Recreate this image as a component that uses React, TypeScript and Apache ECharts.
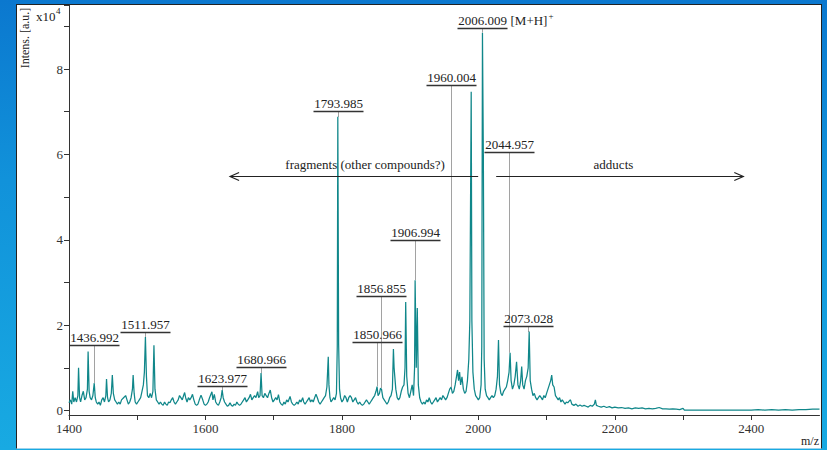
import React, { useEffect, useRef } from "react";
import * as echarts from "echarts";

// m/z vs intensity (x10^4 a.u.)
const spectrum: [number, number][] = [
  [1400, 0.18], [1402, 0.25], [1404, 0.15], [1405.5, 0.45], [1407, 0.2], [1409, 0.3], [1411, 0.2], [1413, 0.35],
  [1414, 1.0], [1415.5, 0.3], [1417, 0.2], [1419, 0.35], [1421, 0.45], [1423, 0.25], [1425, 0.3], [1427, 0.5],
  [1428, 1.38], [1429.5, 0.45], [1431, 0.3], [1433, 0.25], [1435, 0.35], [1437, 0.64], [1438.5, 0.3], [1440, 0.2],
  [1442, 0.15], [1444, 0.2], [1446, 0.12], [1448, 0.25], [1450, 0.3], [1452, 0.2], [1454, 0.35], [1455, 0.74],
  [1456.5, 0.3], [1458, 0.2], [1460, 0.25], [1462, 0.4], [1463.5, 0.83], [1465, 0.4], [1467, 0.25], [1469, 0.2],
  [1471, 0.15], [1473, 0.2], [1475, 0.15], [1477, 0.25], [1480, 0.3], [1483, 0.35], [1485, 0.25], [1487, 0.15],
  [1489, 0.2], [1491, 0.3], [1493, 0.5], [1494, 0.83], [1495.5, 0.4], [1497, 0.2], [1499, 0.15], [1501, 0.2],
  [1503, 0.25], [1505, 0.3], [1507, 0.45], [1509, 0.6], [1510.5, 0.9], [1512, 1.72], [1513.5, 0.8], [1515, 0.35],
  [1517, 0.3], [1519, 0.4], [1521, 0.3], [1523, 0.45], [1524.5, 1.53], [1526, 0.5], [1528, 0.25], [1530, 0.2],
  [1532, 0.15], [1534, 0.2], [1536, 0.15], [1538, 0.12], [1540, 0.2], [1542, 0.15], [1544, 0.12], [1546, 0.2],
  [1548, 0.18], [1550, 0.25], [1552, 0.3], [1554, 0.2], [1556, 0.15], [1558, 0.2], [1560, 0.25], [1562, 0.35],
  [1564, 0.3], [1566, 0.25], [1568, 0.35], [1569.5, 0.42], [1571, 0.3], [1573, 0.2], [1575, 0.3], [1577, 0.25],
  [1579, 0.3], [1581, 0.38], [1583, 0.25], [1585, 0.15], [1587, 0.12], [1589, 0.15], [1591, 0.25], [1593.5, 0.36],
  [1596, 0.25], [1598, 0.15], [1600, 0.12], [1602, 0.15], [1604, 0.2], [1606, 0.3], [1608, 0.38], [1609.5, 0.44],
  [1611, 0.25], [1613, 0.38], [1615, 0.2], [1617, 0.15], [1619, 0.12], [1621, 0.2], [1623, 0.3], [1624.5, 0.48],
  [1626, 0.3], [1628, 0.2], [1630, 0.15], [1632, 0.1], [1634, 0.12], [1636, 0.18], [1638, 0.12], [1640, 0.1],
  [1642, 0.15], [1644, 0.12], [1646, 0.2], [1648, 0.15], [1650, 0.12], [1652, 0.15], [1654, 0.2], [1656, 0.25],
  [1658, 0.3], [1660, 0.2], [1662, 0.25], [1664, 0.3], [1666, 0.38], [1668, 0.25], [1670, 0.3], [1672, 0.35],
  [1674, 0.3], [1676.5, 0.44], [1678, 0.3], [1680, 0.35], [1681.5, 0.88], [1683, 0.35], [1685, 0.3], [1687, 0.4],
  [1689, 0.35], [1691, 0.3], [1693, 0.4], [1695, 0.48], [1697, 0.3], [1699, 0.2], [1701, 0.25], [1703, 0.3],
  [1705, 0.25], [1707, 0.37], [1709, 0.2], [1711, 0.15], [1713, 0.12], [1715, 0.2], [1717, 0.15], [1719, 0.25],
  [1721, 0.2], [1724, 0.33], [1726, 0.2], [1728, 0.15], [1730, 0.12], [1732, 0.15], [1734, 0.2], [1736, 0.15],
  [1738, 0.25], [1740, 0.2], [1742.5, 0.3], [1744, 0.2], [1746, 0.15], [1748, 0.2], [1750, 0.25], [1752, 0.3],
  [1754, 0.2], [1756, 0.25], [1758, 0.2], [1760, 0.3], [1762, 0.38], [1764, 0.3], [1766, 0.2], [1768, 0.15],
  [1770, 0.2], [1772, 0.25], [1774, 0.3], [1776, 0.35], [1778, 0.55], [1779, 0.9], [1780, 1.26], [1781, 0.6],
  [1782.5, 0.3], [1784, 0.2], [1786, 0.25], [1788, 0.3], [1790, 0.25], [1792, 0.4], [1793.2, 1.5], [1794, 6.88],
  [1795.2, 1.55], [1796.5, 0.5], [1798, 0.3], [1800, 0.2], [1802, 0.25], [1804, 0.35], [1806, 0.3], [1808, 0.2],
  [1810, 0.3], [1812, 0.35], [1814, 0.3], [1816, 0.2], [1818, 0.25], [1820, 0.3], [1822, 0.2], [1824, 0.15],
  [1826, 0.2], [1828, 0.15], [1830, 0.12], [1832, 0.15], [1834, 0.2], [1836, 0.25], [1838, 0.2], [1840, 0.15],
  [1842, 0.2], [1844, 0.25], [1846, 0.3], [1848, 0.35], [1850, 0.45], [1851.5, 0.56], [1853, 0.35], [1855, 0.4],
  [1856.5, 0.52], [1858, 0.5], [1860, 0.3], [1862, 0.25], [1864, 0.2], [1866, 0.15], [1868, 0.2], [1870, 0.3],
  [1872, 0.35], [1874, 0.5], [1875.5, 1.44], [1876.5, 1.0], [1877.5, 0.8], [1879, 0.5], [1881, 0.3], [1883, 0.25],
  [1885, 0.3], [1887, 0.45], [1889, 0.55], [1891, 0.6], [1892.5, 1.0], [1893.5, 2.54], [1895, 0.8], [1897, 0.4],
  [1899, 0.3], [1901, 0.45], [1903, 0.6], [1905, 0.35], [1906.5, 1.0], [1907.3, 3.05], [1909, 1.0], [1910.5, 2.4],
  [1912, 0.6], [1914, 0.3], [1916, 0.2], [1918, 0.15], [1920, 0.2], [1922, 0.15], [1924, 0.25], [1926, 0.2],
  [1928, 0.3], [1930, 0.2], [1932, 0.15], [1934, 0.2], [1936, 0.25], [1938, 0.3], [1940, 0.2], [1942, 0.25],
  [1944, 0.3], [1946, 0.25], [1948, 0.35], [1950, 0.3], [1952, 0.25], [1954, 0.3], [1956, 0.4], [1958, 0.5],
  [1960, 0.55], [1962, 0.4], [1964, 0.45], [1966, 0.6], [1968, 0.8], [1969.5, 0.95], [1971, 0.7], [1972.5, 0.9],
  [1974, 0.6], [1976, 0.79], [1978, 0.5], [1980, 0.4], [1982, 0.45], [1984, 0.7], [1986, 1.2], [1987.5, 2.1],
  [1989.5, 7.47], [1990.5, 2.1], [1992, 0.9], [1994, 0.5], [1996, 0.35], [1998, 0.3], [2000, 0.25], [2002, 0.3],
  [2004, 0.6], [2005, 1.5], [2006, 8.85], [2007.3, 6.0], [2008.5, 1.2], [2010, 0.5], [2012, 0.35], [2014, 0.3],
  [2016, 0.25], [2018, 0.3], [2020, 0.35], [2022, 0.3], [2024, 0.35], [2026, 0.5], [2028, 0.8], [2029.5, 1.65],
  [2031, 0.6], [2033, 0.4], [2035, 0.35], [2037, 0.45], [2039, 0.5], [2041, 0.55], [2043, 0.7], [2045, 0.9],
  [2046.5, 1.35], [2048, 0.7], [2050, 0.5], [2052, 0.6], [2054, 0.8], [2056, 1.14], [2058, 0.6], [2060, 0.5],
  [2062, 0.7], [2063.5, 1.03], [2065, 0.6], [2067, 0.5], [2069, 0.7], [2071, 0.8], [2073, 1.0], [2074.5, 1.85],
  [2076, 0.7], [2078, 0.5], [2080, 0.35], [2082, 0.4], [2084, 0.3], [2086, 0.25], [2088, 0.3], [2090, 0.35],
  [2092, 0.3], [2094, 0.25], [2096, 0.35], [2098, 0.3], [2100, 0.4], [2102, 0.5], [2104, 0.6], [2106, 0.7],
  [2107.5, 0.83], [2109, 0.6], [2111, 0.55], [2113, 0.35], [2115, 0.3], [2117, 0.25], [2119, 0.3], [2121, 0.2],
  [2123, 0.25], [2125, 0.2], [2127, 0.15], [2129, 0.2], [2131, 0.18], [2133, 0.22], [2135, 0.25], [2137, 0.15],
  [2140, 0.12], [2143, 0.15], [2146, 0.1], [2149, 0.13], [2152, 0.1], [2155, 0.12], [2158, 0.1], [2161, 0.08],
  [2164, 0.12], [2167, 0.1], [2170, 0.15], [2171.5, 0.25], [2173, 0.12], [2176, 0.1], [2180, 0.08], [2184, 0.1],
  [2188, 0.07], [2192, 0.09], [2196, 0.06], [2200, 0.08], [2205, 0.06], [2210, 0.07], [2215, 0.05], [2220, 0.06],
  [2225, 0.04], [2230, 0.06], [2235, 0.05], [2240, 0.06], [2245, 0.04], [2250, 0.05], [2255, 0.04], [2260, 0.05],
  [2265, 0.07], [2270, 0.04], [2275, 0.04], [2280, 0.03], [2285, 0.04], [2290, 0.03], [2295, 0.02], [2300, 0.05],
  [2302, 0.01], [2320, 0.01], [2350, 0.01], [2380, 0.01], [2400, 0.01], [2410, 0.02], [2420, 0.01], [2430, 0.02],
  [2440, 0.01], [2450, 0.02], [2460, 0.01], [2470, 0.02], [2480, 0.02], [2490, 0.03], [2500, 0.03],
];

// peak annotations
const peakLabels = ["1436.992", "1511.957", "1623.977", "1680.966", "1793.985", "1850.966", "1856.855", "1906.994", "1960.004", "2006.009", "2044.957", "2073.028"];
const peakMz = [1436.992, 1511.957, 1623.977, 1680.966, 1793.985, 1850.966, 1856.855, 1906.994, 1960.004, 2006.009, 2044.957, 2073.028];
const labelLevel = [1.53, 1.84, 0.57, 1.02, 7.01, 1.6, 2.68, 3.99, 7.62, 8.96, 6.05, 1.98];
const peakTop = [0.64, 1.72, 0.48, 0.88, 6.88, 0.56, 0.52, 3.05, 0.55, 8.85, 1.35, 1.85];
const labelSuffix = ["", "", "", "", "", "", "", "", "", "[M+H]", "", ""];

// range arrows
const arrowTexts = ["fragments (other compounds?)", "adducts"];
const arrowFrom = [1999.7, 2026.1];
const arrowTo = [1636.1, 2388.3];
const arrowTextMz = [1834, 2198];
const arrowLevel = 5.49;
const arrowTextLevel = 5.77;

const xTicks = { min: 1400, max: 2500, step: 100 };
const yTicks = { min: 0, max: 9.5, step: 1 };

const SERIF = '"Liberation Serif", "Times New Roman", serif';
const TEAL = "#10878a";

export default function App() {
  const ref = useRef<HTMLDivElement>(null);

  useEffect(() => {
    if (!ref.current) return;
    const chart = echarts.init(ref.current, undefined, { renderer: "svg" });

    const annData = peakMz.map((m, i) => [m, labelLevel[i], peakTop[i], i]);
    const arrowData = arrowFrom.map((f, i) => [f, arrowLevel, arrowTo[i], arrowTextMz[i], i]);

    chart.setOption({
      animation: false,
      backgroundColor: "transparent",
      grid: { left: 69, right: 7.5, top: 5, bottom: 39.5, outerBoundsMode: "none" },
      xAxis: {
        type: "value",
        min: xTicks.min,
        max: xTicks.max,
        interval: xTicks.step,
        offset: 4.5,
        axisLine: { show: true, onZero: false, lineStyle: { color: "#333", width: 1 } },
        axisTick: { show: true, length: 5, lineStyle: { color: "#333" } },
        axisLabel: {
          formatter: (v: number) => (Math.round((v - 1400) / 100) % 2 === 0 ? String(v) : ""),
          fontFamily: SERIF,
          fontSize: 13,
          color: "#333",
          margin: 7,
          showMaxLabel: false,
        },
        splitLine: { show: false },
      },
      yAxis: {
        type: "value",
        min: yTicks.min,
        max: yTicks.max,
        interval: yTicks.step,
        axisLine: { show: true, lineStyle: { color: "#333", width: 1 } },
        axisTick: { show: true, length: 5, lineStyle: { color: "#333" } },
        axisLabel: {
          formatter: (v: number) => (Math.abs(v - Math.round(v)) < 1e-6 && Math.round(v) % 2 === 0 ? String(Math.round(v)) : ""),
          fontFamily: SERIF,
          fontSize: 13,
          color: "#333",
          margin: 6,
        },
        splitLine: { show: false },
      },
      graphic: [
        { type: "line", shape: { x1: 69.5, y1: 410, x2: 69.5, y2: 415.5 }, style: { stroke: "#333", lineWidth: 1 } },
        {
          type: "text",
          x: 25,
          y: 38,
          rotation: Math.PI / 2,
          style: { text: "Intens. [a.u.]", font: `12px ${SERIF}`, fill: "#222", align: "center", verticalAlign: "middle" },
        },
        { type: "text", style: { x: 36, y: 16, text: "x10", font: `13px ${SERIF}`, fill: "#222", align: "left", verticalAlign: "middle" } },
        { type: "text", style: { x: 56, y: 11, text: "4", font: `9px ${SERIF}`, fill: "#222", align: "left", verticalAlign: "middle" } },
        { type: "text", style: { x: 819, y: 441, text: "m/z", font: `12px ${SERIF}`, fill: "#222", align: "right", verticalAlign: "middle" } },
      ],
      series: [
        {
          type: "line",
          data: spectrum,
          showSymbol: false,
          symbol: "none",
          lineStyle: { color: TEAL, width: 1.25 },
          itemStyle: { color: TEAL },
          clip: true,
          z: 2,
        },
        {
          type: "custom",
          coordinateSystem: "cartesian2d",
          data: annData,
          encode: { x: 0, y: 1 },
          clip: false,
          z: 3,
          renderItem: (_p: any, api: any) => {
            const i = api.value(3) as number;
            const m = api.value(0);
            const u = api.coord([m, api.value(1)]);
            const t = api.coord([m, api.value(2)]);
            const x = Math.round(u[0]) + 0.5;
            const uy = Math.round(u[1]) + 0.5;
            const children: any[] = [
              { type: "line", shape: { x1: x, y1: uy, x2: x, y2: t[1] }, style: { stroke: "#444", lineWidth: 1, lineDash: [1, 1] } },
              { type: "line", shape: { x1: x - 25, y1: uy, x2: x + 25, y2: uy }, style: { stroke: "#333", lineWidth: 1.5 } },
              { type: "text", style: { x: x, y: uy - 8.5, text: peakLabels[i], font: `13px ${SERIF}`, fill: "#222", align: "center", verticalAlign: "middle" } },
            ];
            if (labelSuffix[i]) {
              children.push({ type: "text", style: { x: x + 28, y: uy - 8.5, text: labelSuffix[i], font: `13px ${SERIF}`, fill: "#222", align: "left", verticalAlign: "middle" } });
              children.push({ type: "text", style: { x: x + 66, y: uy - 12.5, text: "+", font: `9px ${SERIF}`, fill: "#222", align: "left", verticalAlign: "middle" } });
            }
            return { type: "group", children };
          },
        },
        {
          type: "custom",
          coordinateSystem: "cartesian2d",
          data: arrowData,
          encode: { x: 0, y: 1 },
          clip: false,
          z: 3,
          renderItem: (_p: any, api: any) => {
            const i = api.value(4) as number;
            const a = api.coord([api.value(0), api.value(1)]);
            const b = api.coord([api.value(2), api.value(1)]);
            const tx = api.coord([api.value(3), arrowTextLevel]);
            const y = Math.round(a[1]) + 0.5;
            const dir = b[0] > a[0] ? 1 : -1;
            return {
              type: "group",
              children: [
                { type: "line", shape: { x1: a[0], y1: y, x2: b[0], y2: y }, style: { stroke: "#222", lineWidth: 1.2 } },
                { type: "polyline", shape: { points: [[b[0] - dir * 9, y - 4], [b[0], y], [b[0] - dir * 9, y + 4]] }, style: { stroke: "#222", lineWidth: 1.2, fill: null } },
                { type: "text", style: { x: tx[0], y: tx[1], text: arrowTexts[i], font: `13px ${SERIF}`, fill: "#222", align: "center", verticalAlign: "middle" } },
              ],
            };
          },
        },
      ],
    });

    return () => chart.dispose();
  }, []);

  return (
    <div
      style={{
        position: "fixed",
        left: 0,
        top: 0,
        width: 827,
        height: 450,
        background: "linear-gradient(180deg, #0b78cf 0%, #1192da 40%, #18aae2 100%)",
        overflow: "hidden",
      }}
    >
      <div
        style={{
          position: "absolute",
          left: 16,
          top: 4,
          width: 804,
          height: 443,
          background: "#ffffff",
          borderLeft: "1px solid #222",
          borderTop: "1px solid #222",
          borderRight: "1px solid #222",
          borderBottom: "1px solid #9fd3ec",
        }}
      />
      <div ref={ref} style={{ position: "absolute", left: 0, top: 0, width: 827, height: 450 }} />
    </div>
  );
}
